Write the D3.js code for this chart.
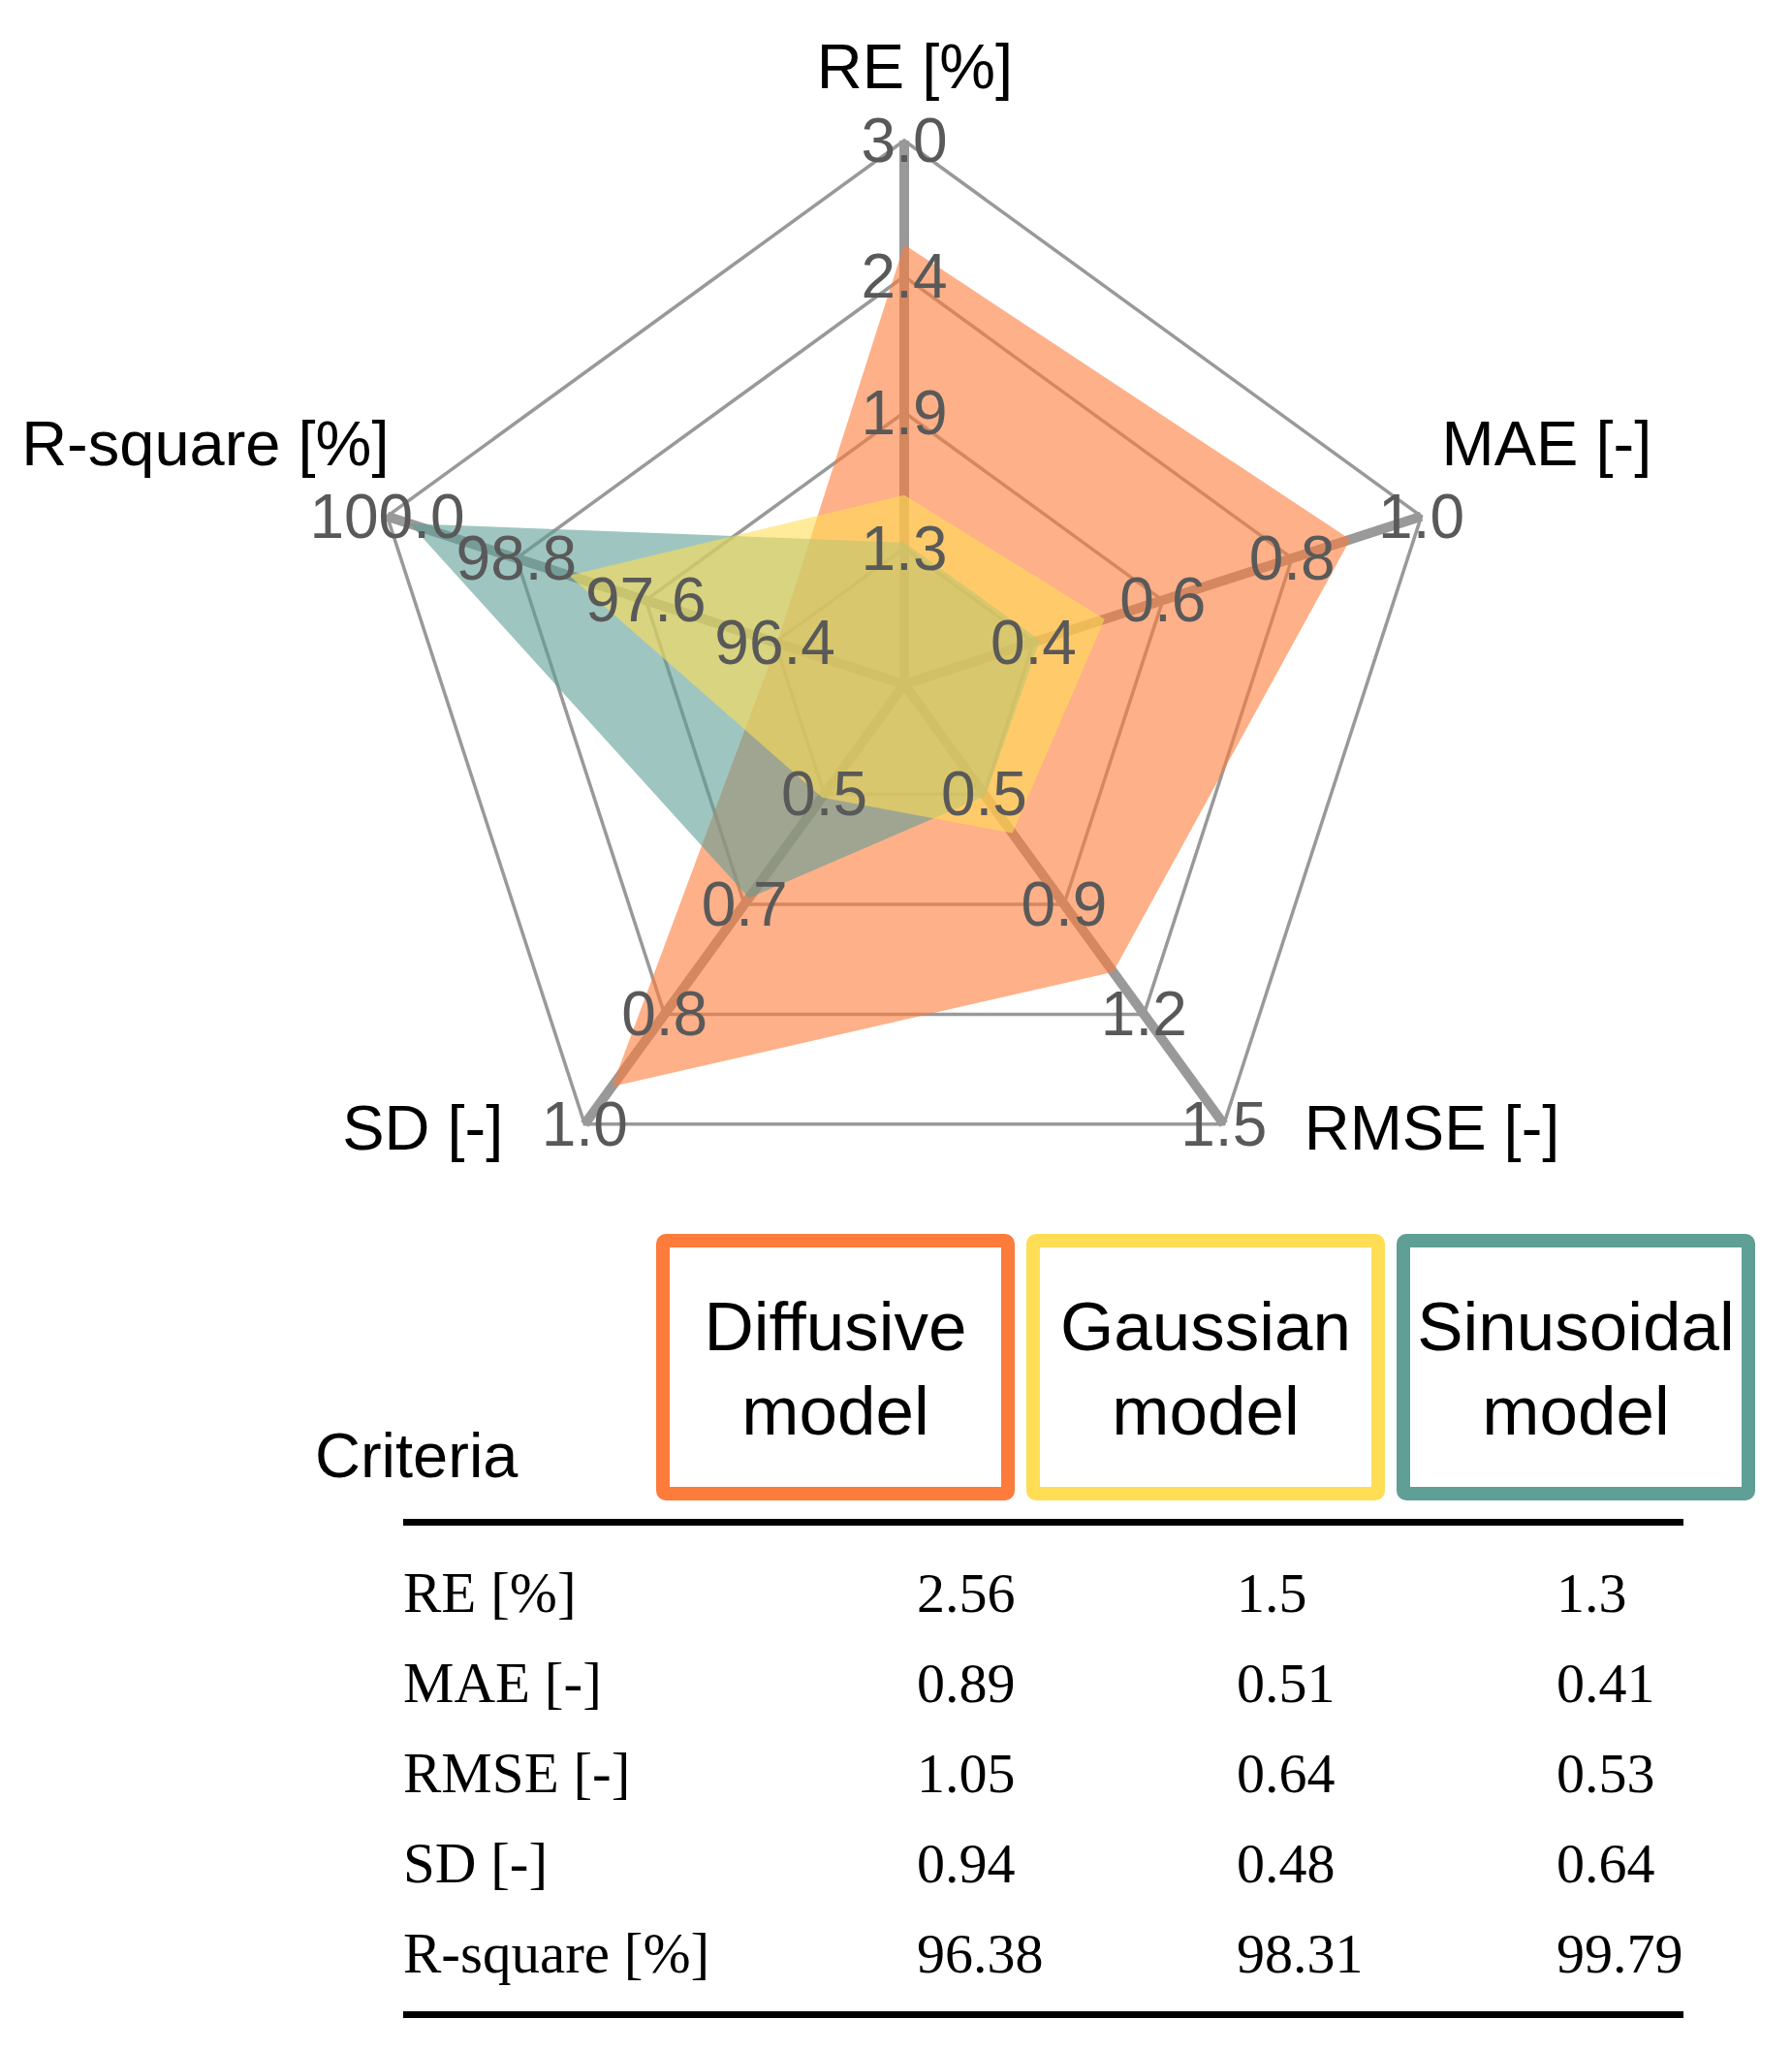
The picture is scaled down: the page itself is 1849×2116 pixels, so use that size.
<!DOCTYPE html>
<html>
<head>
<meta charset="utf-8">
<script src="https://cdn.jsdelivr.net/npm/d3@7"></script>
<style>
  html, body { margin: 0; padding: 0; background: #ffffff; }
  svg { display: block; }
</style>
</head>
<body>
<svg id="chart" width="1849" height="2116"></svg>
<script>
// ---------------- DATA ----------------
const criteria = ["RE [%]", "MAE [-]", "RMSE [-]", "SD [-]", "R-square [%]"];
const axisMin = [0.7, 0.2, 0.2, 0.3, 95.2];
const axisMax = [3.0, 1.0, 1.5, 1.0, 100.0];
const tickLabels = [
  ["1.3", "1.9", "2.4", "3.0"],
  ["0.4", "0.6", "0.8", "1.0"],
  ["0.5", "0.9", "1.2", "1.5"],
  ["0.5", "0.7", "0.8", "1.0"],
  ["96.4", "97.6", "98.8", "100.0"]
];
const modelNames = [["Diffusive", "model"], ["Gaussian", "model"], ["Sinusoidal", "model"]];
const diffusive  = [2.56, 0.89, 1.05, 0.94, 96.38];
const gaussian   = [1.5, 0.51, 0.64, 0.48, 98.31];
const sinusoidal = [1.3, 0.41, 0.53, 0.64, 99.79];
const modelColors = ["#FD7B3B", "#FFDD55", "#5F9F96"];

// ---------------- LAYOUT ----------------
const svg = d3.select("#chart");
svg.append("rect").attr("width", 1849).attr("height", 2116).attr("fill", "#fff");

const cx = 933, cy = 706, R = 561;
const n = criteria.length;
const angle = i => -Math.PI / 2 + i * 2 * Math.PI / n;
const scales = criteria.map((c, i) => d3.scaleLinear().domain([axisMin[i], axisMax[i]]).range([0, R]));
const pt = (i, r) => [cx + r * Math.cos(angle(i)), cy + r * Math.sin(angle(i))];
const levels = [0.25, 0.5, 0.75, 1.0];

const sans = "'Liberation Sans', Arial, Helvetica, sans-serif";
const serif = "'Liberation Serif', 'Times New Roman', serif";

const radar = svg.append("g");
const line = d3.line().curve(d3.curveLinearClosed);

// grid pentagons
radar.selectAll("path.grid").data(levels).join("path")
  .attr("class", "grid")
  .attr("d", l => line(d3.range(n).map(i => pt(i, l * R))))
  .attr("fill", "none").attr("stroke", "#999999").attr("stroke-width", 3.5)
  .attr("stroke-linejoin", "miter");

// thick axes
radar.selectAll("line.axis").data(d3.range(n)).join("line")
  .attr("class", "axis")
  .attr("x1", cx).attr("y1", cy)
  .attr("x2", i => pt(i, R)[0]).attr("y2", i => pt(i, R)[1])
  .attr("stroke", "#999999").attr("stroke-width", 10);

// polygons: orange, teal, yellow (yellow on top)
const series = [
  { vals: diffusive, color: modelColors[0] },
  { vals: sinusoidal, color: modelColors[2] },
  { vals: gaussian, color: modelColors[1] }
];
radar.selectAll("path.series").data(series).join("path")
  .attr("class", "series")
  .attr("d", s => line(s.vals.map((v, i) => pt(i, scales[i](v)))))
  .attr("fill", s => s.color).attr("fill-opacity", 0.6).attr("stroke", "none");

// tick labels
criteria.forEach((c, i) => {
  levels.forEach((l, k) => {
    const v = scales[i].invert(l * R);
    const p = pt(i, scales[i](v));
    radar.append("text")
      .attr("x", p[0]).attr("y", p[1])
      .attr("text-anchor", "middle").attr("dominant-baseline", "central")
      .attr("font-family", sans).attr("font-size", 64).attr("fill", "#595959")
      .text(tickLabels[i][k]);
  });
});

// axis labels
const labelPlace = [
  { dx: 11, dy: -54, anchor: "middle" },
  { dx: 21, dy: -53, anchor: "start" },
  { dx: 83, dy: 26, anchor: "start" },
  { dx: -84, dy: 26, anchor: "end" },
  { dx: 2, dy: -53, anchor: "end" }
];
criteria.forEach((c, i) => {
  const p = pt(i, R);
  radar.append("text")
    .attr("x", p[0] + labelPlace[i].dx).attr("y", p[1] + labelPlace[i].dy)
    .attr("text-anchor", labelPlace[i].anchor)
    .attr("font-family", sans).attr("font-size", 65).attr("fill", "#000")
    .text(c);
});

// ---------------- TABLE ----------------
const tbl = svg.append("g");
const boxX = d3.scaleLinear().domain([0, 1]).range([684, 1066]);
const boxW = 356, boxY = 1280, boxH = 261;
modelNames.forEach((m, j) => {
  const x = boxX(j);
  tbl.append("rect")
    .attr("x", x).attr("y", boxY).attr("width", boxW).attr("height", boxH)
    .attr("rx", 3).attr("fill", "none")
    .attr("stroke", modelColors[j]).attr("stroke-width", 14);
  m.forEach((t, k) => {
    tbl.append("text")
      .attr("x", x + boxW / 2).attr("y", 1393 + k * 87)
      .attr("text-anchor", "middle")
      .attr("font-family", sans).attr("font-size", 71).attr("fill", "#000")
      .text(t);
  });
});

tbl.append("text").attr("x", 325).attr("y", 1524)
  .attr("font-family", sans).attr("font-size", 65).attr("fill", "#000")
  .text("Criteria");

tbl.append("rect").attr("x", 416).attr("y", 1567).attr("width", 1321).attr("height", 7).attr("fill", "#000");
tbl.append("rect").attr("x", 416).attr("y", 2075).attr("width", 1321).attr("height", 7).attr("fill", "#000");

const rowY = d3.scaleLinear().domain([0, 1]).range([1663, 1756]);
const colX = [416, 946, 1276, 1606];
const tableSeries = [diffusive, gaussian, sinusoidal];
criteria.forEach((c, i) => {
  const y = rowY(i);
  tbl.append("text").attr("x", colX[0]).attr("y", y)
    .attr("font-family", serif).attr("font-size", 59).attr("fill", "#000").text(c);
  tableSeries.forEach((s, j) => {
    tbl.append("text").attr("x", colX[j + 1]).attr("y", y)
      .attr("font-family", serif).attr("font-size", 58).attr("fill", "#000").text(String(s[i]));
  });
});
</script>
</body>
</html>
